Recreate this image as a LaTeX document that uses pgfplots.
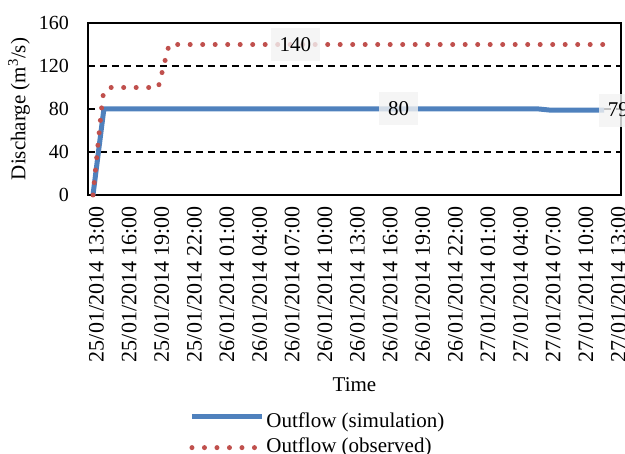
\documentclass[border=0pt]{standalone}
\usepackage{pgfplots}
\pgfplotsset{compat=1.18}
\usepackage{fontspec}
\setmainfont{Liberation Serif}
\definecolor{simblue}{HTML}{4F81BD}
\definecolor{obsred}{HTML}{C0504D}
\pgfplotsset{
  simleg/.style={legend image code/.code={\draw[##1] (0pt,5pt) -- (70pt,5pt);}},
  obsleg/.style={legend image code/.code={\draw[##1] (0pt,-1pt) -- (70pt,-1pt);}},
}
\begin{document}
\fontsize{21}{25}\selectfont
\begin{tikzpicture}
\begin{axis}[
  scale only axis, width=533pt, height=172pt,
  xmin=-0.46, xmax=48.55, ymin=0, ymax=160,
  ytick={0,40,...,160},
  xtick={0,3,...,48},
  xticklabels={25/01/2014 13:00,25/01/2014 16:00,25/01/2014 19:00,25/01/2014 22:00,26/01/2014 01:00,26/01/2014 04:00,26/01/2014 07:00,26/01/2014 10:00,26/01/2014 13:00,26/01/2014 16:00,26/01/2014 19:00,26/01/2014 22:00,27/01/2014 01:00,27/01/2014 04:00,27/01/2014 07:00,27/01/2014 10:00,27/01/2014 13:00},
  xticklabel style={xshift=2pt, yshift=-4pt, rotate=90, anchor=east, yshift=-1.5pt, font=\fontsize{22}{26}\selectfont},
  yticklabel style={xshift=-12pt, font=\fontsize{20}{24}\selectfont},
  /pgf/number format/assume math mode=true,
  major tick length=0pt,
  ymajorgrids, grid style={black, line width=1.5pt, dash pattern=on 7pt off 5pt},
  axis line style={black, line width=1.6pt},
  xlabel={Time}, ylabel={Discharge (m\textsuperscript{3}/s)},
  xlabel style={at={([yshift=-190pt]rel axis cs:0.5,0)}, anchor=center, font=\fontsize{21}{25}\selectfont},
  ylabel style={at={([xshift=-69pt]rel axis cs:0,0.5)}, anchor=center, font=\fontsize{21}{25}\selectfont},
  clip=false,
  legend style={at={(0.19,-1.253)}, anchor=north west, draw=none, fill=none,
    font=\fontsize{21}{25}\selectfont, row sep=3pt, inner sep=0pt,
    /tikz/every even column/.append style={column sep=6pt}},
  legend cell align=left,
]
\addplot[simblue, line width=5pt, line join=round, simleg] coordinates {
 (0,0) (1,80) (41,80) (42,79) (47,79)
};
\addlegendentry{Outflow (simulation)}
\addplot[obsred, line width=5pt, line cap=round, dash pattern=on 0pt off 12.5pt, obsleg] coordinates {
 (0,0) (0.9,92) (1.4,100) (6.0,100) (7.0,140) (47,140)
};
\addlegendentry{Outflow (observed)}
\node[fill=black!5, fill opacity=0.8, text opacity=1, inner xsep=9pt, minimum height=33pt] at (axis cs:18.6,140) {140};
\node[fill=black!5, fill opacity=0.8, text opacity=1, inner xsep=9pt, minimum height=33pt] at (axis cs:28.1,80) {80};
\node[fill=black!5, fill opacity=0.8, text opacity=1, inner xsep=9pt, minimum height=33pt] at (axis cs:48.3,79) {79};
\coordinate (SW) at (rel axis cs:0,0);
\coordinate (NE) at (rel axis cs:1,1);
\end{axis}
\pgfresetboundingbox
\path ([shift={(-88pt,-259pt)}]SW) rectangle ([shift={(4pt,23pt)}]NE);
\end{tikzpicture}
\end{document}
